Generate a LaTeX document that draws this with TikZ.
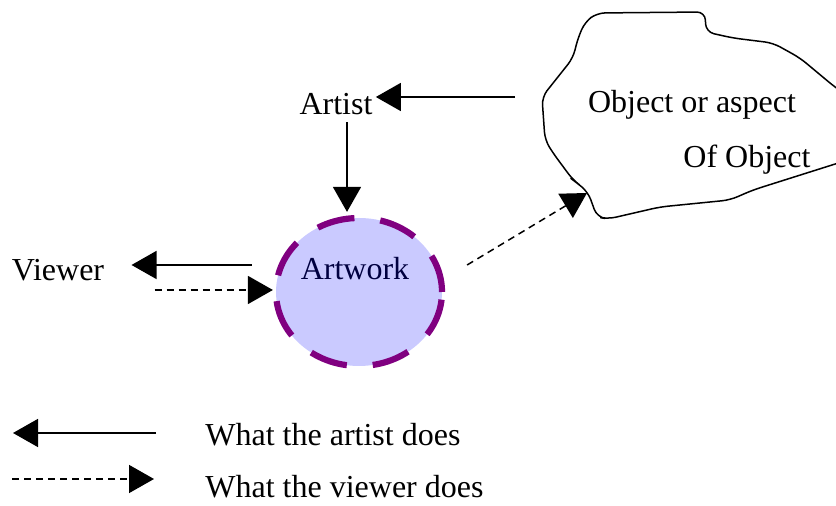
\documentclass[tikz,border=0pt]{standalone}
\usepackage{fontspec}
\setmainfont{Liberation Serif}
\usetikzlibrary{arrows.meta,shapes.geometric}

\definecolor{artfill}{RGB}{202,202,255}
\definecolor{artrim}{RGB}{128,0,128}
\definecolor{artink}{RGB}{0,0,64}

\tikzset{
  word/.style={inner sep=0pt, font=\fontsize{16}{19}\selectfont},
  does/.style={line width=0.75pt, -{Triangle[length=12.5pt,width=14pt]}},
  sees/.style={does, dash pattern=on 3.5pt off 2.5pt},
}

\begin{document}
\begin{tikzpicture}[x=0.5pt, y=-0.5pt]
\useasboundingbox (0,0) rectangle (836,506);

% the object, running off the right edge
\begin{scope}
  \clip (0,0) rectangle (836,506);
  \draw[line width=0.75pt, rounded corners=4pt]
    (705,12) -- (597,13) -- (585,22) -- (578,38) -- (573,58) -- (542,97) -- (545,140)
    -- (553,153) -- (573,180) -- (577,183) -- (588,192) -- (597,217)
    -- (608,219) -- (660,207) -- (730,200) -- (753,190) -- (870,153)
    -- (870,110) -- (836,88) -- (800,58) -- (773,43) -- (733,38)
    -- (706,32) -- cycle;
\end{scope}
\coordinate (cloudside)  at (515,97);
\coordinate (cloudnotch) at (587,193);

\node[word, anchor=base] (object)   at (692,113) {Object or aspect};
\node[word, anchor=base] (ofobject) at (747,168) {Of Object};

\node[word] (artist) at (336,104) {Artist};
\node[word] (viewer) at (58,270)  {Viewer};

\node[ellipse, fill=artfill, draw=artrim, line width=3.1pt,
      dash pattern=on 19pt off 13pt, inner sep=0pt,
      minimum width=83pt, minimum height=74pt] (artwork) at (359,292) {};
\node[word, anchor=base, text=artink] (artworkname) at (355,280) {Artwork};

\draw[does] (cloudside) -- ([shift={(1.5pt,3.5pt)}]artist.east);
\draw[does] ([shift={(5.5pt,-3.5pt)}]artist.south) -- ([shift={(-6pt,1.5pt)}]artwork.north);
\draw[does] ([shift={(-10.5pt,13.5pt)}]artwork.west) -- ([shift={(13.5pt,2.5pt)}]viewer.east);
\draw[sees] ([shift={(25pt,-10pt)}]viewer.east) -- ([yshift=1pt]artwork.west);
\draw[sees] ([shift={(11pt,13.5pt)}]artwork.east) -- (cloudnotch);

% key
\coordinate (artistfrom) at (156,433);
\coordinate (artistto)   at (13,433);
\coordinate (viewerfrom) at (12,479);
\coordinate (viewerto)   at (154,479);
\node[word, anchor=base west] (artistkey) at (205,446) {What the artist does};
\node[word, anchor=base west] (viewerkey) at (205,498) {What the viewer does};
\draw[does] (artistfrom) -- (artistto);
\draw[sees] (viewerfrom) -- (viewerto);

\end{tikzpicture}
\end{document}
